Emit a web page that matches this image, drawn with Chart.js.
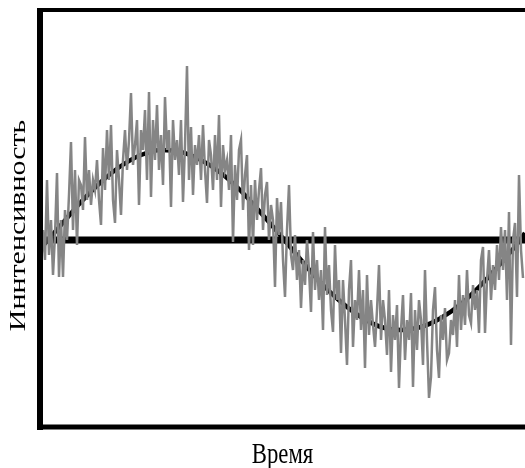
<!DOCTYPE html>
<html>
<head>
<meta charset="utf-8">
<script src="https://cdn.jsdelivr.net/npm/chart.js@4/dist/chart.umd.min.js"></script>
<style>
html,body{margin:0;padding:0;background:#fff;}
#c{display:block;}
</style>
</head>
<body>
<canvas id="c" width="525" height="468"></canvas>
<script>
// Axis titles
const xTitle = "Время";
const yTitle = "Иннтенсивность";

// Noisy measured signal (time index 0..241, intensity relative to mean level)
const noisyValues = [
  -28, 10, -20, 60, -15, 20, -35, 5, 67, -37,
  20, -37, 30, 0, 45, 98, 10, 70, -5, 60,
  55, 30, 103, 40, 70, 35, 60, 50, 80, 40,
  15, 92, 50, 110, 60, 115, 40, 17, 90, 60,
  25, 80, 110, 70, 100, 147, 75, 95, 120, 35,
  110, 90, 130, 60, 148, 43, 120, 80, 135, 70,
  105, 55, 143, 90, 110, 33, 120, 80, 100, 65,
  120, 38, 95, 174, 60, 113, 45, 95, 75, 105,
  60, 115, 70, 37, 100, 85, 50, 105, 60, 125,
  33, 95, 70, 80, 50, 105, -2, 75, 40, 90,
  100, 30, 65, 85, -10, 55, -5, 60, 20, 50,
  72, 10, 45, 58, 0, 35, 20, -47, 42, 5,
  38, -20, -57, 10, 55, -15, -30, 5, -40, -10,
  -68, -20, -45, 0, -30, -72, 8, -50, -20, -60,
  -30, -90, 13, -55, -25, -70, -92, -5, -60, -40,
  -113, -40, -80, -125, -50, -20, -107, -60, -80, -30,
  -90, -50, -128, -35, -95, -60, -85, -107, -70, -25,
  -100, -60, -80, -115, -50, -132, -75, -100, -65, -148,
  -90, -55, -120, -80, -100, -53, -147, -70, -110, -60,
  -80, -125, -30, -100, -158, -137, -70, -47, -110, -138,
  -75, -100, -68, -120, -113, -80, -95, -60, -107, -35,
  -90, -55, -85, -30, -75, -83, -45, -70, -50, -93,
  -20, -7, -93, -40, -10, -60, -25, -50, -5, -40,
  13, -30, 10, -60, 28, -105, 0, 17, -57, 65, -10, -38
];

// Smooth underlying curve (read at every 10 time units)
const smoothTime = [0, 10, 20, 30, 40, 50, 60, 70, 80, 90, 100, 110, 120, 130, 140, 150, 160, 170, 180, 190, 200, 210, 220, 230, 240, 242];
const smoothValues = [-8, 15, 38, 58, 74, 85, 90, 88, 80, 67, 49, 27, 4, -20, -43, -62, -77, -87, -90, -87, -78, -64, -45, -23, 1, 7];

// Mean level line
const meanTime = [-0.5, 242];
const meanValues = [0, 0];

// Axis ranges
const timeMin = -0.5, timeMax = 242;
const intensityMin = -187, intensityMax = 230;

const noisyData = noisyValues.map((v, i) => ({x: i, y: v}));
const smoothData = smoothTime.map((t, i) => ({x: t, y: smoothValues[i]}));
const meanData = meanTime.map((t, i) => ({x: t, y: meanValues[i]}));

const framePlugin = {
  id: 'frame',
  afterDraw(chart) {
    const {ctx, chartArea: a} = chart;
    ctx.save();
    ctx.strokeStyle = '#000';
    ctx.lineCap = 'butt';
    ctx.lineWidth = 6;
    ctx.beginPath(); ctx.moveTo(a.left, a.top - 2); ctx.lineTo(a.left, a.bottom + 3); ctx.stroke();
    ctx.lineWidth = 4;
    ctx.beginPath(); ctx.moveTo(a.left - 3, a.top); ctx.lineTo(a.right, a.top); ctx.stroke();
    ctx.lineWidth = 5;
    ctx.beginPath(); ctx.moveTo(a.left - 3, a.bottom); ctx.lineTo(a.right, a.bottom); ctx.stroke();

    // axis titles (serif, vertically stretched like the source)
    ctx.fillStyle = '#000';
    ctx.font = '22.7px "Liberation Serif"';
    ctx.textAlign = 'center';
    ctx.textBaseline = 'alphabetic';
    const cx = (a.left + a.right) / 2;
    ctx.save();
    ctx.translate(cx, a.bottom + 36);
    ctx.scale(1, 1.32);
    ctx.fillText(xTitle, 0, 0);
    ctx.restore();

    ctx.save();
    ctx.translate(a.left - 15, 225.5);
    ctx.rotate(-Math.PI / 2);
    ctx.scale(1.32, 1);
    ctx.fillText(yTitle, 0, 0);
    ctx.restore();
    ctx.restore();
  }
};

new Chart(document.getElementById('c'), {
  type: 'line',
  data: {
    datasets: [
      {data: noisyData, borderColor: '#858585', borderWidth: 2.5, pointRadius: 0, tension: 0, order: 1},
      {data: smoothData, borderColor: '#000', borderWidth: 4.5, pointRadius: 0, cubicInterpolationMode: 'monotone', order: 2},
      {data: meanData, borderColor: '#000', borderWidth: 7, pointRadius: 0, tension: 0, order: 3}
    ]
  },
  options: {
    responsive: false,
    animation: false,
    devicePixelRatio: 1,
    layout: {padding: {left: 40, right: 0, top: 10, bottom: 41}},
    plugins: {legend: {display: false}, tooltip: {enabled: false}},
    scales: {
      x: {type: 'linear', display: false, min: timeMin, max: timeMax},
      y: {type: 'linear', display: false, min: intensityMin, max: intensityMax}
    }
  },
  plugins: [framePlugin]
});
</script>
</body>
</html>
